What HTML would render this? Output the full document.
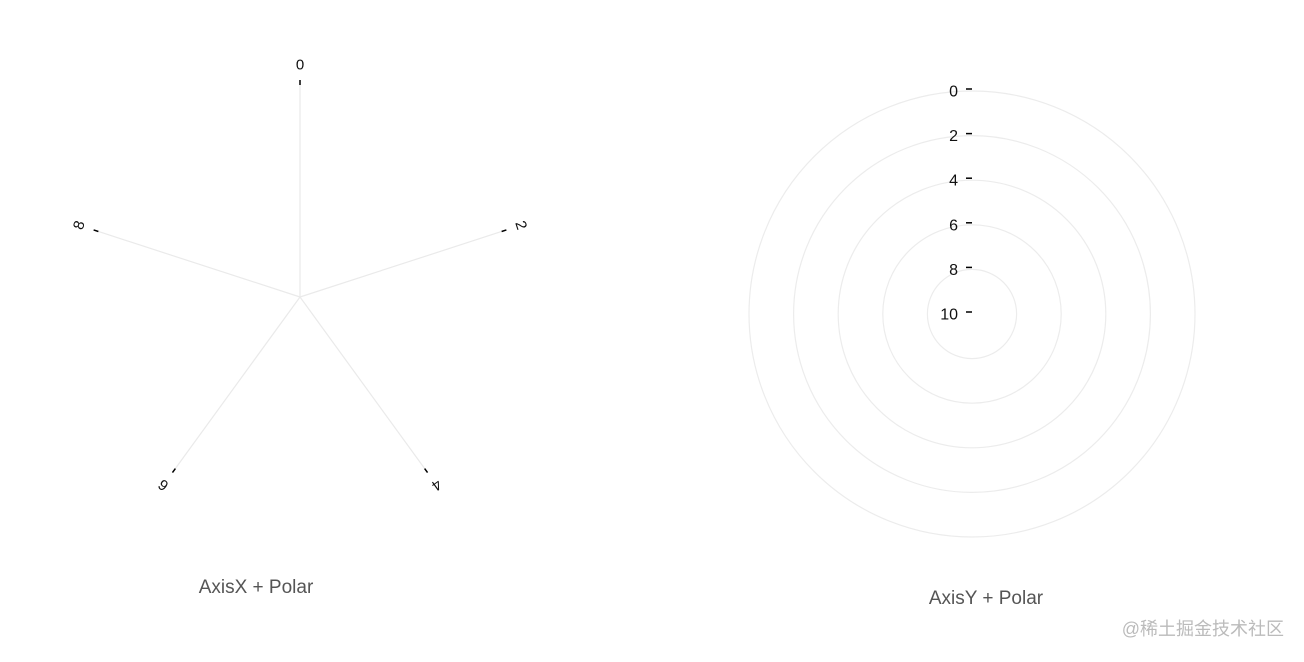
<!DOCTYPE html>
<html><head><meta charset="utf-8"><style>
body{margin:0;background:#fff;width:1304px;height:657px;overflow:hidden;font-family:"Liberation Sans","Noto Sans CJK SC",sans-serif}
</style></head><body>
<svg width="1304" height="657">
<g id="left"></g>
<g id="right"></g>
<text x="256" y="593" text-anchor="middle" font-size="19" fill="#555">AxisX + Polar</text>
<text x="986" y="604" text-anchor="middle" font-size="19" fill="#555">AxisY + Polar</text>
<text x="1284" y="635" text-anchor="end" font-size="18" fill="#bbb">@稀土掘金技术社区</text>
</svg>
<script>
const xTicks=[0,2,4,6,8];
const xDomain=[0,10];
const yTicks=[0,2,4,6,8,10];
const yDomain=[0,10];
const NS="http://www.w3.org/2000/svg";
function mk(t,a,p){const e=document.createElementNS(NS,t);for(const k in a)e.setAttribute(k,a[k]);p.appendChild(e);return e;}
const L=document.getElementById('left');const cx=300,cy=297,R=212;
const ang=v=>(v-xDomain[0])/(xDomain[1]-xDomain[0])*2*Math.PI;
xTicks.forEach(v=>{
 const a=ang(v),s=Math.sin(a),c=-Math.cos(a);
 const ln=mk('line',{x1:cx,y1:cy,x2:cx+R*s,y2:cy+R*c,stroke:'#eaeaea','stroke-width':1.2},L);
 
 
 const tk=mk('line',{x1:cx+R*s,y1:cy+R*c,x2:cx+(R+5)*s,y2:cy+(R+5)*c,stroke:'#000','stroke-width':1.5},L);
 
 
 const lx=cx+(R+20)*s,ly=cy+(R+20)*c;
 const t=mk('text',{x:lx,y:ly,'text-anchor':'middle','dominant-baseline':'central','font-size':15,fill:'#111',transform:`rotate(${a*180/Math.PI} ${lx} ${ly})`},L);
 t.textContent=v;
 
 
});
const Rg=document.getElementById('right');const rx=972,ry=314,RR=223;
const rad=v=>RR*(1-(v-yDomain[0])/(yDomain[1]-yDomain[0]));
yTicks.forEach(v=>{
 const r=rad(v);
 if(r>0){const ci=mk('circle',{cx:rx,cy:ry,r:r,fill:'none',stroke:'#ececec','stroke-width':1.2},Rg);
 
 }
 const tk=mk('line',{x1:rx-6,y1:ry-r-2,x2:rx,y2:ry-r-2,stroke:'#000','stroke-width':1.5},Rg);
 
 
 const t=mk('text',{x:rx-14,y:ry-r+1,'text-anchor':'end','dominant-baseline':'central','font-size':16,fill:'#111'},Rg);
 t.textContent=v;
 
 
});
</script>
</body></html>
